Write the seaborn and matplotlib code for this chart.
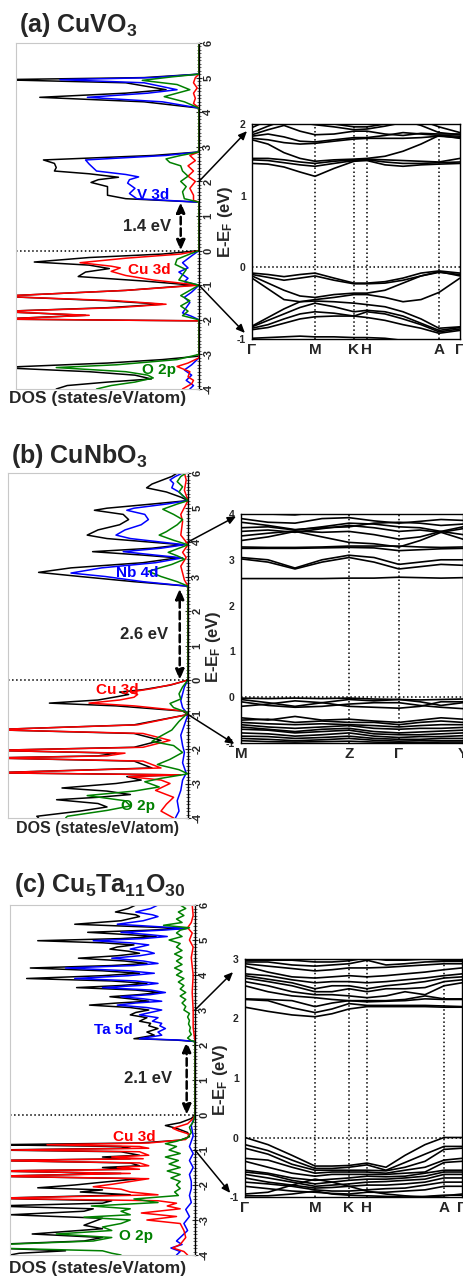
import matplotlib
matplotlib.use('Agg')
import pandas as pd
import matplotlib.pyplot as plt
import seaborn as sns
from matplotlib.patches import ConnectionPatch
from matplotlib.ticker import AutoMinorLocator

# ---------------- DOS data: (energy eV, DOS states/eV/atom) ----------------
a_total = [(6.0,0),(5.1,0),(5.0,3),(4.94,11),(4.85,4),(4.65,1.8),(4.55,4),(4.43,8.7),(4.3,3),(4.12,0),
           (2.85,0),(2.75,2.5),(2.62,8.5),(2.52,7.9),(2.4,7.8),(2.3,7.9),(2.22,6.0),(2.12,4.4),(2.05,5.5),(1.97,5.9),(1.85,5.0),(1.6,5.0),(1.5,4.0),(1.4,0),
           (0.0,0),(-0.1,2.0),(-0.2,6.0),(-0.33,9.0),(-0.42,6.0),(-0.52,4.9),(-0.62,6.2),(-0.75,6.6),(-0.88,3.0),(-1.0,0.3),
           (-1.15,4),(-1.32,11),(-1.45,5),(-1.55,2.0),(-1.65,5),(-1.76,11),(-1.87,6.2),(-1.98,11),(-2.03,0),
           (-3.05,0),(-3.15,2),(-3.25,5),(-3.38,11),(-3.5,6),(-3.6,3.5),(-3.71,2.6),(-3.8,5),(-3.9,7.2),(-4.0,7.8)]
a_metal = [(6.0,0),(5.1,0),(5.0,2.5),(4.94,7.6),(4.85,3),(4.65,1.2),(4.55,2.8),(4.43,6.1),(4.3,2),(4.12,0),
           (2.85,0),(2.75,1.8),(2.62,6.2),(2.5,6.0),(2.4,5.8),(2.3,5.6),(2.2,4.0),(2.13,3.3),(2.05,3.8),(1.95,3.9),(1.8,3.5),(1.65,3.8),(1.5,3.4),(1.4,0),
           (0.0,0),(-0.15,0.4),(-0.35,0.9),(-0.5,0.6),(-0.62,1.1),(-0.8,0.6),(-0.9,0.8),(-1.0,0),
           (-1.2,0.4),(-1.35,0.8),(-1.5,0.5),(-1.65,0.7),(-1.8,0.9),(-1.9,0.4),(-2.0,0),
           (-3.1,0),(-3.3,0.4),(-3.45,0.8),(-3.6,0.4),(-3.75,0.7),(-3.9,0.3),(-4.0,0.5)]
a_cu = [(6.0,0),(5.1,0),(5.0,0.2),(4.85,0.3),(4.7,0.1),(4.55,0.3),(4.4,0.2),(4.25,0.3),(4.12,0),
        (2.85,0),(2.75,0.5),(2.6,0.2),(2.45,0.6),(2.3,0.3),(2.15,0.6),(2.0,0.2),(1.8,0.5),(1.6,0.3),(1.45,0.3),(1.4,0),
        (0.0,0),(-0.1,1.0),(-0.22,4.0),(-0.35,6.5),(-0.45,4.8),(-0.5,4.3),(-0.6,4.8),(-0.72,4.0),(-0.85,2.5),(-1.0,0),
        (-1.15,4),(-1.32,11),(-1.45,4.5),(-1.55,1.8),(-1.65,4.5),(-1.76,11),(-1.87,6),(-1.98,11),(-2.03,0),
        (-3.1,0),(-3.25,0.6),(-3.35,1.2),(-3.5,0.5),(-3.65,0.6),(-3.75,0.3),(-3.85,0.4),(-4.0,0.9)]
a_o = [(6.0,0),(5.1,0),(5.02,1.5),(4.92,3.1),(4.8,1.2),(4.65,0.5),(4.55,1.2),(4.45,1.9),(4.3,0.8),(4.12,0),
       (2.85,0),(2.75,1.0),(2.65,1.8),(2.55,1.6),(2.45,1.0),(2.3,0.9),(2.15,0.6),(2.0,1.0),(1.85,0.7),(1.7,0.9),(1.5,0.8),(1.4,0),
       (0.0,0),(-0.1,0.5),(-0.25,1.2),(-0.4,1.3),(-0.55,0.7),(-0.7,0.9),(-0.85,1.1),(-1.0,0),
       (-1.15,0.5),(-1.3,1.0),(-1.45,0.5),(-1.6,1.0),(-1.75,0.6),(-1.88,0.9),(-2.0,0),
       (-3.0,0),(-3.15,1.2),(-3.3,4.5),(-3.38,7.8),(-3.5,4.0),(-3.6,2.8),(-3.68,2.5),(-3.8,3.5),(-3.9,4.8),(-4.0,5.6)]

b_total = [(6.0,0.6),(5.9,0.9),(5.8,1.4),(5.68,2.0),(5.57,2.3),(5.45,1.2),(5.3,0.4),(5.2,0),
           (5.1,2.0),(4.98,4.5),(4.92,5.2),(4.8,3.6),(4.65,3.3),(4.5,3.8),(4.35,5.0),(4.2,5.6),(4.1,4.5),(3.92,0.3),(3.82,2.0),(3.72,5.3),(3.62,2.5),(3.54,0.6),(3.4,2.5),(3.25,6.5),(3.12,8.3),(3.0,6.0),(2.85,3.0),(2.72,0),
           (0.0,0),(-0.15,1.0),(-0.28,2.5),(-0.35,3.8),(-0.42,3.3),(-0.48,3.9),(-0.58,5.0),(-0.67,7.7),(-0.75,4.0),(-0.9,0.3),(-1.0,0),
           (-1.3,3),(-1.44,11),(-1.55,3),(-1.75,1.5),(-1.95,3),(-2.04,11),(-2.12,4),(-2.2,5),(-2.26,11),(-2.35,3),(-2.55,2),(-2.69,11),(-2.75,0.5),
           (-2.8,3.4),(-2.9,2.6),(-3.0,4.0),(-3.13,7.0),(-3.22,4.5),(-3.32,3.2),(-3.4,5.0),(-3.47,7.3),(-3.58,5.0),(-3.68,4.5),(-3.8,6.0),(-3.95,8.4),(-4.0,8.3)]
b_metal = [(6.0,0.3),(5.9,0.7),(5.8,1.0),(5.7,0.8),(5.57,0.9),(5.45,0.5),(5.3,0.2),(5.2,0),
           (5.1,1.2),(4.98,3.0),(4.92,3.4),(4.8,2.4),(4.65,2.2),(4.5,2.6),(4.35,3.5),(4.2,4.0),(4.1,3.2),(3.92,0.2),(3.82,1.5),(3.72,3.6),(3.62,1.8),(3.54,0.3),(3.4,1.8),(3.25,4.8),(3.1,6.5),(3.0,4.6),(2.85,2.5),(2.72,0),
           (0.0,0),(-0.2,0.2),(-0.4,0.3),(-0.6,0.4),(-0.8,0.3),(-1.0,0),
           (-1.3,0.2),(-1.6,0.4),(-1.9,0.3),(-2.1,0.2),(-2.4,0.3),(-2.7,0.1),
           (-2.9,0.3),(-3.2,0.4),(-3.5,0.6),(-3.8,0.5),(-4.0,0.7)]
b_cu = [(6.0,0.2),(5.8,0.1),(5.5,0.2),(5.2,0),
        (5.0,0.2),(4.8,0.4),(4.6,0.3),(4.2,0.4),(4.0,0.1),(3.92,0),(3.7,0.3),(3.55,0.1),(3.3,0.4),(3.1,0.3),(2.9,0.2),(2.72,0),
        (0.0,0),(-0.12,0.8),(-0.25,2.0),(-0.35,3.2),(-0.42,2.8),(-0.5,3.0),(-0.58,3.8),(-0.67,5.5),(-0.75,3.0),(-0.9,0.2),(-1.0,0),
        (-1.3,2.8),(-1.44,11),(-1.55,2.5),(-1.75,1.0),(-1.95,2.5),(-2.04,11),(-2.12,3.5),(-2.2,4.5),(-2.26,11),(-2.35,2.5),(-2.55,1.5),(-2.69,11),(-2.75,0.4),
        (-2.8,3.3),(-2.9,1.5),(-3.0,1.0),(-3.2,1.8),(-3.4,0.8),(-3.6,1.2),(-3.8,1.5),(-4.0,0.8)]
b_o = [(6.0,0.1),(5.9,0.4),(5.75,0.6),(5.6,0.3),(5.45,0.5),(5.3,0.2),(5.2,0),
       (5.1,0.6),(4.95,1.4),(4.8,0.8),(4.65,0.3),(4.5,0.6),(4.3,1.2),(4.2,1.6),(4.05,0.8),(3.92,0),(3.8,0.6),(3.7,1.1),(3.6,0.6),(3.5,0.2),(3.35,0.9),(3.15,2.2),(3.0,1.5),(2.85,0.6),(2.72,0),
       (0.0,0),(-0.2,0.3),(-0.4,0.5),(-0.55,0.4),(-0.68,1.0),(-0.8,0.8),(-0.95,0),
       (-1.2,0.5),(-1.45,0.9),(-1.65,1.6),(-1.78,2.0),(-1.9,0.8),(-2.1,0.3),(-2.3,1.0),(-2.45,1.7),(-2.6,0.5),(-2.72,0),
       (-2.85,1.5),(-2.95,2.4),(-3.1,1.6),(-3.22,3.0),(-3.35,5.6),(-3.5,3.5),(-3.65,3.2),(-3.78,4.5),(-3.95,6.7),(-4.0,6.8)]

c_total = [(6.0,3.2),(5.9,3.6),(5.8,4.3),(5.72,3.2),(5.67,3.0),(5.55,4.0),(5.45,6.5),(5.38,3.0),(5.33,0.5),(5.28,2.5),(5.22,5.8),(5.15,3.5),(5.1,2.1),(5.04,4.0),(4.98,8.5),(4.92,5.0),(4.86,3.3),(4.8,4.2),(4.74,4.6),(4.68,3.6),(4.62,3.0),(4.55,4.2),(4.48,6.3),(4.4,3.8),(4.33,2.6),(4.27,4.5),(4.2,8.9),(4.12,5.0),(4.05,3.0),(3.98,5.0),(3.9,9.1),(3.83,4.5),(3.76,2.6),(3.7,4.0),(3.64,6.4),(3.57,3.2),(3.5,1.9),(3.44,3.0),(3.38,4.6),(3.32,3.5),(3.25,2.5),(3.2,4.2),(3.14,5.7),(3.07,3.5),(3.0,2.5),(2.93,3.2),(2.86,3.5),(2.78,2.6),(2.68,3.0),(2.62,2.4),(2.55,2.5),(2.47,2.0),(2.37,2.6),(2.28,2.2),(2.18,3.3),(2.14,1.0),(2.1,0),
           (0.0,0),(-0.1,0.2),(-0.22,0.8),(-0.3,1.6),(-0.38,1.0),(-0.5,0.4),(-0.62,0.3),(-0.72,0.8),
           (-0.8,3),(-0.85,11),(-0.9,4),(-0.95,3.5),(-1.0,11),(-1.05,4),(-1.15,3),(-1.2,5.0),(-1.25,3.5),(-1.3,11),(-1.37,3.5),(-1.45,3.0),(-1.5,5.0),(-1.55,3.5),(-1.6,11),(-1.67,4.0),(-1.75,11),(-1.82,3.0),(-1.92,5),(-2.0,6.5),(-2.08,8.5),(-2.14,5.0),(-2.2,6.2),(-2.28,3.5),(-2.38,11),(-2.45,4.5),(-2.52,5.0),(-2.6,11),(-2.68,5.5),(-2.75,6.0),(-2.85,10.0),(-2.95,5.0),(-3.05,5.5),(-3.15,6.0),(-3.25,5.0),(-3.4,8.8),(-3.5,5.0),(-3.6,6.0),(-3.7,11),(-3.8,11),(-3.88,7.0),(-3.95,9.5),(-4.0,10)]
c_metal = [(6.0,2.0),(5.9,2.4),(5.8,3.2),(5.72,2.3),(5.67,2.0),(5.55,2.8),(5.45,4.2),(5.38,2.0),(5.33,0.4),(5.28,1.8),(5.22,4.0),(5.15,2.4),(5.1,1.5),(5.04,2.8),(4.98,5.5),(4.92,3.5),(4.86,2.5),(4.8,3.0),(4.74,3.5),(4.68,2.6),(4.62,2.2),(4.55,3.0),(4.48,4.5),(4.4,2.8),(4.33,2.0),(4.27,3.3),(4.2,7.0),(4.12,3.6),(4.05,2.2),(3.98,3.6),(3.9,6.5),(3.83,3.2),(3.76,2.0),(3.7,3.0),(3.64,5.0),(3.57,2.4),(3.5,1.6),(3.44,2.4),(3.38,4.0),(3.32,2.8),(3.25,1.8),(3.2,3.2),(3.14,4.2),(3.07,2.6),(3.0,1.8),(2.93,2.4),(2.86,3.0),(2.78,2.0),(2.68,2.3),(2.62,1.8),(2.55,1.9),(2.47,1.6),(2.37,2.0),(2.28,1.8),(2.18,3.0),(2.14,0.8),(2.1,0),
           (0.0,0),(-0.3,0.2),(-0.6,0.1),(-0.9,0.3),(-1.1,0.1),(-1.3,0.3),(-1.5,0.1),(-1.7,0.3),(-1.9,0.2),(-2.1,0.2),(-2.3,0.3),(-2.5,0.2),(-2.7,0.5),(-2.9,0.3),(-3.1,0.6),(-3.3,0.4),(-3.5,0.8),(-3.6,1.0),(-3.7,0.7),(-3.8,1.3),(-3.9,0.8),(-4.0,1.0)]
c_cu = [(6.0,0.15),(5.7,0.1),(5.5,0.2),(5.35,0.4),(5.2,0.15),(5.0,0.3),(4.8,0.1),(4.5,0.2),(4.0,0.1),(3.5,0.15),(3.0,0.1),(2.5,0.1),(2.1,0),
        (0.0,0),(-0.1,0.1),(-0.25,0.4),(-0.38,1.2),(-0.45,0.9),(-0.55,0.3),(-0.7,0.5),
        (-0.8,2.5),(-0.85,8),(-0.9,3),(-0.95,2.5),(-1.0,10),(-1.05,3),(-1.15,2.5),(-1.2,4.5),(-1.25,2.8),(-1.3,11),(-1.37,3.0),(-1.45,2.5),(-1.5,4.2),(-1.55,3.0),(-1.6,11),(-1.67,3.5),(-1.75,11),(-1.82,2.5),(-1.9,3.5),(-1.98,4.5),(-2.05,5.5),(-2.12,4.0),(-2.2,3.5),(-2.28,2.0),(-2.38,11),(-2.45,2.0),(-2.52,1.0),(-2.6,1.5),(-2.68,0.8),(-2.8,2.9),(-2.9,1.0),(-3.0,2.6),(-3.1,0.8),(-3.3,0.6),(-3.5,0.5),(-3.7,0.8),(-3.8,1.2),(-3.9,0.6),(-4.0,0.4)]
c_o = [(6.0,0.8),(5.9,0.5),(5.8,0.9),(5.7,0.6),(5.6,1.0),(5.5,0.7),(5.42,1.7),(5.35,0.3),(5.28,0.8),(5.2,1.0),(5.1,0.7),(5.0,1.4),(4.9,0.8),(4.8,1.0),(4.7,0.7),(4.6,1.1),(4.5,0.7),(4.4,1.0),(4.3,0.7),(4.2,1.1),(4.1,0.7),(4.0,1.0),(3.9,0.6),(3.8,0.9),(3.7,0.6),(3.6,0.8),(3.5,0.5),(3.4,0.8),(3.3,0.5),(3.2,0.7),(3.1,0.5),(3.0,0.6),(2.9,0.3),(2.8,0.4),(2.7,0.3),(2.6,0.35),(2.5,0.25),(2.4,0.3),(2.3,0.2),(2.2,0.4),(2.12,0.2),(2.1,0),
       (0.0,0),(-0.2,0.1),(-0.35,0.3),(-0.5,0.2),(-0.65,0.4),
       (-0.75,1.0),(-0.82,1.6),(-0.9,1.0),(-1.0,1.4),(-1.1,0.8),(-1.2,1.6),(-1.3,0.9),(-1.4,1.4),(-1.5,0.8),(-1.6,1.5),(-1.7,0.8),(-1.8,1.3),(-1.9,0.8),(-2.0,1.0),(-2.1,0.8),(-2.2,1.1),(-2.3,0.9),(-2.4,3.3),(-2.5,2.0),(-2.6,5.6),(-2.68,3.5),(-2.75,4.0),(-2.85,3.5),(-2.92,6.0),(-3.0,3.5),(-3.1,4.0),(-3.2,5.0),(-3.3,4.5),(-3.4,7.5),(-3.5,4.5),(-3.6,5.5),(-3.7,10.5),(-3.8,11),(-3.88,5.0),(-3.95,4.5),(-4.0,4.0)]

# ---------------- band structure data ----------------
a_k = [0, 0.16, 0.32, 0.48, 0.63, 0.82, 1.02, 1.15, 1.33, 1.51, 1.69, 1.87, 2.08]
a_kticks = [0, 0.63, 1.02, 1.15, 1.87, 2.08]
a_klabels = ['Γ', 'M', 'K', 'H', 'A', 'Γ']
a_bands = [
    [1.45, 1.44, 1.40, 1.33, 1.27, 1.38, 1.48, 1.49, 1.43, 1.41, 1.43, 1.44, 1.45],
    [1.50, 1.49, 1.46, 1.43, 1.41, 1.45, 1.49, 1.50, 1.47, 1.45, 1.45, 1.46, 1.47],
    [1.52, 1.52, 1.50, 1.47, 1.45, 1.48, 1.50, 1.51, 1.50, 1.49, 1.48, 1.47, 1.52],
    [1.78, 1.72, 1.60, 1.52, 1.48, 1.50, 1.51, 1.52, 1.55, 1.62, 1.72, 1.84, 1.80],
    [1.80, 1.78, 1.74, 1.72, 1.73, 1.76, 1.79, 1.80, 1.80, 1.80, 1.81, 1.83, 1.81],
    [1.83, 1.86, 1.82, 1.76, 1.75, 1.78, 1.81, 1.81, 1.84, 1.88, 1.86, 1.84, 1.83],
    [1.85, 1.92, 1.98, 1.90, 1.85, 1.86, 1.90, 1.90, 1.86, 1.84, 1.87, 1.86, 1.86],
    [1.88, 1.97, 2.05, 2.02, 1.99, 1.96, 1.92, 1.93, 1.97, 2.02, 2.05, 1.96, 1.88],
    [1.95, 2.05, 2.10, 2.10, 2.05, 2.00, 1.96, 1.96, 2.00, 2.05, 1.98, 1.88, 1.85],
    [-0.08, -0.10, -0.13, -0.10, -0.08, -0.15, -0.22, -0.22, -0.20, -0.15, -0.08, -0.05, -0.08],
    [-0.10, -0.14, -0.18, -0.15, -0.12, -0.18, -0.23, -0.23, -0.22, -0.18, -0.12, -0.07, -0.10],
    [-0.12, -0.22, -0.32, -0.40, -0.42, -0.38, -0.36, -0.36, -0.32, -0.22, -0.12, -0.06, -0.12],
    [-0.15, -0.30, -0.45, -0.48, -0.45, -0.42, -0.38, -0.38, -0.42, -0.48, -0.45, -0.35, -0.15],
    [-0.82, -0.70, -0.58, -0.48, -0.47, -0.48, -0.50, -0.52, -0.55, -0.62, -0.72, -0.85, -0.83],
    [-0.83, -0.74, -0.65, -0.56, -0.50, -0.55, -0.62, -0.60, -0.62, -0.68, -0.78, -0.88, -0.84],
    [-0.85, -0.80, -0.72, -0.65, -0.62, -0.64, -0.68, -0.62, -0.65, -0.72, -0.80, -0.90, -0.86],
    [-0.87, -0.84, -0.78, -0.72, -0.69, -0.68, -0.68, -0.70, -0.74, -0.80, -0.85, -0.92, -0.88],
    [-0.99, -0.98, -0.97, -0.96, -0.97, -0.97, -0.98, -0.98, -0.99, -1.02, -1.05, -1.06, -1.05],
]

b_k = [0, 0.27, 0.54, 0.81, 1.08, 1.33, 1.58, 1.79, 2.0, 2.22]
b_kticks = [0, 1.08, 1.58, 2.22]
b_klabels = ['M', 'Z', 'Γ', 'Y']
b_bands = [
    [2.59, 2.59, 2.59, 2.59, 2.60, 2.60, 2.62, 2.61, 2.60, 2.61],
    [3.02, 2.95, 2.80, 2.95, 3.05, 2.95, 2.80, 2.85, 2.90, 2.88],
    [3.05, 3.00, 2.82, 3.00, 3.10, 3.05, 2.90, 2.95, 3.00, 3.00],
    [3.25, 3.25, 3.25, 3.26, 3.27, 3.26, 3.20, 3.22, 3.24, 3.25],
    [3.28, 3.27, 3.27, 3.28, 3.30, 3.30, 3.30, 3.28, 3.27, 3.28],
    [3.42, 3.50, 3.62, 3.50, 3.38, 3.35, 3.28, 3.42, 3.60, 3.45],
    [3.52, 3.58, 3.63, 3.60, 3.62, 3.55, 3.45, 3.50, 3.62, 3.55],
    [3.62, 3.65, 3.60, 3.68, 3.75, 3.70, 3.62, 3.65, 3.60, 3.68],
    [3.70, 3.72, 3.65, 3.72, 3.80, 3.78, 3.72, 3.70, 3.62, 3.72],
    [3.82, 3.75, 3.66, 3.70, 3.72, 3.80, 3.82, 3.80, 3.75, 3.78],
    [3.90, 3.82, 3.80, 3.90, 3.92, 3.85, 3.80, 3.84, 3.88, 3.86],
    [4.10, 4.00, 3.98, 4.05, 4.10, 4.10, 4.10, 4.10, 4.10, 4.10],
    [-0.02, -0.03, -0.02, -0.03, -0.02, -0.04, -0.05, -0.06, -0.05, -0.04],
    [-0.05, -0.12, -0.20, -0.12, -0.05, -0.08, -0.05, -0.10, -0.18, -0.12],
    [-0.10, -0.18, -0.22, -0.20, -0.15, -0.12, -0.12, -0.18, -0.22, -0.25],
    [-0.20, -0.15, -0.08, -0.12, -0.20, -0.22, -0.24, -0.20, -0.10, -0.10],
    [-0.45, -0.50, -0.42, -0.50, -0.48, -0.52, -0.55, -0.50, -0.45, -0.48],
    [-0.50, -0.48, -0.55, -0.52, -0.55, -0.55, -0.60, -0.55, -0.52, -0.55],
    [-0.55, -0.58, -0.60, -0.58, -0.60, -0.62, -0.65, -0.62, -0.60, -0.60],
    [-0.60, -0.65, -0.68, -0.65, -0.62, -0.68, -0.70, -0.68, -0.68, -0.66],
    [-0.65, -0.70, -0.75, -0.70, -0.68, -0.75, -0.78, -0.76, -0.74, -0.72],
    [-0.70, -0.72, -0.78, -0.75, -0.72, -0.80, -0.82, -0.82, -0.80, -0.78],
    [-0.78, -0.80, -0.85, -0.82, -0.78, -0.85, -0.88, -0.86, -0.86, -0.84],
    [-0.85, -0.86, -0.90, -0.88, -0.85, -0.90, -0.92, -0.92, -0.90, -0.90],
    [-0.90, -0.92, -0.95, -0.93, -0.90, -0.94, -0.96, -0.95, -0.95, -0.95],
    [-0.95, -0.97, -0.98, -0.97, -0.96, -0.98, -0.99, -0.99, -0.98, -0.98],
]

c_k = [0, 0.23, 0.47, 0.70, 0.87, 1.04, 1.22, 1.41, 1.60, 1.80, 1.99, 2.17]
c_kticks = [0, 0.70, 1.04, 1.22, 1.99, 2.17]
c_klabels = ['Γ', 'M', 'K', 'H', 'A', 'Γ']
c_bands = [
    [2.19, 2.12, 2.06, 2.03, 2.08, 2.16, 2.20, 2.20, 2.20, 2.20, 2.19, 2.19],
    [2.32, 2.30, 2.18, 2.10, 2.16, 2.25, 2.22, 2.22, 2.22, 2.22, 2.21, 2.20],
    [2.33, 2.32, 2.30, 2.20, 2.26, 2.30, 2.28, 2.29, 2.30, 2.33, 2.32, 2.32],
    [2.55, 2.45, 2.38, 2.35, 2.32, 2.30, 2.30, 2.30, 2.32, 2.38, 2.33, 2.33],
    [2.62, 2.55, 2.45, 2.40, 2.40, 2.38, 2.35, 2.38, 2.45, 2.40, 2.55, 2.60],
    [2.68, 2.62, 2.55, 2.45, 2.45, 2.50, 2.45, 2.50, 2.50, 2.52, 2.62, 2.65],
    [2.72, 2.66, 2.60, 2.50, 2.55, 2.55, 2.50, 2.55, 2.58, 2.62, 2.68, 2.70],
    [2.75, 2.72, 2.65, 2.60, 2.62, 2.62, 2.60, 2.62, 2.65, 2.68, 2.72, 2.75],
    [2.88, 2.78, 2.70, 2.68, 2.70, 2.72, 2.70, 2.72, 2.75, 2.78, 2.82, 2.85],
    [2.92, 2.88, 2.84, 2.80, 2.82, 2.85, 2.85, 2.86, 2.88, 2.90, 2.92, 2.92],
    [2.95, 2.95, 2.90, 2.88, 2.90, 2.92, 2.98, 2.90, 2.92, 2.95, 2.96, 2.96],
    [2.98, 2.98, 2.98, 2.95, 2.95, 2.97, 3.02, 2.98, 2.98, 3.00, 2.98, 2.98],
    [0.00, -0.12, -0.30, -0.48, -0.48, -0.47, -0.43, -0.50, -0.30, -0.12, 0.00, 0.00],
    [-0.12, -0.22, -0.38, -0.52, -0.52, -0.50, -0.46, -0.55, -0.42, -0.28, -0.15, -0.15],
    [-0.18, -0.28, -0.45, -0.55, -0.55, -0.55, -0.55, -0.56, -0.50, -0.40, -0.20, -0.18],
    [-0.35, -0.38, -0.50, -0.60, -0.58, -0.58, -0.58, -0.60, -0.55, -0.50, -0.38, -0.35],
    [-0.40, -0.50, -0.60, -0.65, -0.62, -0.62, -0.62, -0.62, -0.60, -0.58, -0.42, -0.40],
    [-0.55, -0.60, -0.68, -0.72, -0.70, -0.68, -0.65, -0.66, -0.65, -0.60, -0.55, -0.55],
    [-0.58, -0.62, -0.72, -0.78, -0.75, -0.72, -0.70, -0.70, -0.68, -0.65, -0.58, -0.58],
    [-0.62, -0.68, -0.75, -0.82, -0.80, -0.78, -0.75, -0.74, -0.72, -0.70, -0.62, -0.62],
    [-0.68, -0.75, -0.80, -0.85, -0.84, -0.82, -0.80, -0.80, -0.78, -0.75, -0.68, -0.68],
    [-0.75, -0.78, -0.82, -0.88, -0.90, -0.90, -0.88, -0.86, -0.85, -0.80, -0.75, -0.75],
    [-0.82, -0.86, -0.90, -0.92, -0.94, -0.95, -0.92, -0.92, -0.90, -0.88, -0.82, -0.82],
    [-0.95, -0.92, -0.80, -0.70, -0.75, -0.82, -0.90, -0.95, -0.98, -1.00, -0.98, -0.95],
    [-0.98, -0.98, -0.95, -0.90, -0.95, -0.97, -0.98, -0.99, -1.00, -0.99, -0.97, -0.97],
]

titles = [r'(a) CuVO$_\mathbf{3}$', r'(b) CuNbO$_\mathbf{3}$', r'(c) Cu$_\mathbf{5}$Ta$_\mathbf{11}$O$_\mathbf{30}$']
metal_names = ['V 3d', 'Nb 4d', 'Ta 5d']
gaps = [1.4, 2.65, 2.1]
gap_texts = ['1.4 eV', '2.6 eV', '2.1 eV']
band_ylims = [(-1, 2), (-1, 4), (-1, 3)]
arrow_from = [(2, -1), (4, -1), (3, -1)]

# ---------------- style ----------------
sns.set_style('white')
plt.rcParams['font.family'] = ['Liberation Sans', 'DejaVu Sans']
plt.rcParams['font.weight'] = 'bold'
plt.rcParams['mathtext.fontset'] = 'custom'
plt.rcParams['mathtext.bf'] = 'Liberation Sans:bold'
plt.rcParams['mathtext.rm'] = 'Liberation Sans:bold'
plt.rcParams['mathtext.default'] = 'bf'
plt.rcParams['axes.unicode_minus'] = False

W, H = 464, 1277
fig = plt.figure(figsize=(W / 100, H / 100), dpi=100)


def box(l, t, r, b):
    return [l / W, 1 - b / H, (r - l) / W, (b - t) / H]


# pixel layout of each panel
dos_boxes = [(16, 43, 199, 389), (8, 473, 188, 818), (10, 905, 195, 1255)]
band_boxes = [(252, 124, 460, 339), (241, 514, 463, 743), (245, 959, 462, 1197)]
title_xy = [(19, 25), (11, 456), (14, 885)]
xlabel_y = [399, 828, 1268]
xlabel_size = [12.5, 11.5, 12.5]
elabel_xy = [(226, 222), (214, 647), (221, 1080)]
gap_x = [1.0, 0.46, 0.45]
gap_txt_x = [1.5, 1.1, 1.25]
lab_pos = [[(2.5, 1.62), (2.7, -0.55), (2.2, -3.45)],
           [(2.8, 3.1), (3.9, -0.3), (2.8, -3.65)],
           [(4.4, 2.42), (3.3, -0.62), (3.2, -3.45)]]
tip_up = [(-0.024, 0.967), (-0.022, 0.99), (-0.055, 0.945)]
tip_dn = [(-0.034, 0.028), (-0.03, -0.004), (-0.068, 0.017)]

dos_sets = [(a_total, a_metal, a_cu, a_o), (b_total, b_metal, b_cu, b_o), (c_total, c_metal, c_cu, c_o)]
band_sets = [(a_k, a_bands, a_kticks, a_klabels), (b_k, b_bands, b_kticks, b_klabels),
             (c_k, c_bands, c_kticks, c_klabels)]
colors = ['black', '#0000ff', '#ff0000', '#008000']
lab_colors = ['#0000ff', '#ff0000', '#008000']

for i in range(3):
    # --- DOS panel ---
    ax = fig.add_axes(box(*dos_boxes[i]))
    for pts, col in zip(dos_sets[i], colors):
        e, d = zip(*pts)
        sns.lineplot(x=list(d), y=list(e), sort=False, estimator=None, color=col, lw=1.1, ax=ax)
    ax.set_xlim(10, 0)
    ax.set_ylim(-4, 6)
    ax.set_xticks([])
    ax.set_yticks(range(-4, 7))
    ax.yaxis.tick_right()
    ax.yaxis.set_minor_locator(AutoMinorLocator(10))
    ax.tick_params(axis='y', which='major', direction='inout', length=4, width=0.8,
                   labelsize=8, labelrotation=90, pad=1)
    ax.tick_params(axis='y', which='minor', direction='inout', length=2.2, width=0.5)
    for lab in ax.get_yticklabels():
        lab.set_fontweight('bold')
        lab.set_va('center')
    for s in ['left', 'top', 'bottom']:
        ax.spines[s].set_color('#c8c8c8')
        ax.spines[s].set_linewidth(0.8)
    ax.spines['right'].set_color('black')
    ax.spines['right'].set_linewidth(1.0)
    ax.set_xlabel('')
    ax.set_ylabel('')
    ax.axhline(0, ls=':', color='black', lw=1.1)
    ax.annotate('', xy=(gap_x[i], gaps[i]), xytext=(gap_x[i], 0),
                arrowprops=dict(arrowstyle='<|-|>,head_length=0.6,head_width=0.25',
                                ls=(0, (3, 1.6)), lw=1.8, color='black', shrinkA=0, shrinkB=0))
    ax.text(gap_txt_x[i], gaps[i] / 2, gap_texts[i], ha='right', va='center',
            fontsize=12, fontweight='bold')
    for (lx, ly), name, col in zip(lab_pos[i], [metal_names[i], 'Cu 3d', 'O 2p'], lab_colors):
        ax.text(lx, ly, name, color=col, ha='center', va='center', fontsize=11, fontweight='bold')

    fig.text(title_xy[i][0] / W, 1 - title_xy[i][1] / H, titles[i], ha='left', va='center',
             fontsize=18, fontweight='bold')
    fig.text(98 / W, 1 - xlabel_y[i] / H, 'DOS (states/eV/atom)', ha='center', va='center',
             fontsize=xlabel_size[i], fontweight='bold')
    fig.text(elabel_xy[i][0] / W, 1 - elabel_xy[i][1] / H, r'E-E$_\mathbf{F}$ (eV)', rotation=90,
             ha='center', va='center', fontsize=12, fontweight='bold')

    # --- band panel ---
    bx = fig.add_axes(box(*band_boxes[i]))
    kg, bands, kt, kl = band_sets[i]
    rows = [(k, en, j) for j, bnd in enumerate(bands) for k, en in zip(kg, bnd)]
    df = pd.DataFrame(rows, columns=['k', 'E', 'band'])
    sns.lineplot(data=df, x='k', y='E', units='band', estimator=None, color='black', lw=1.2,
                 ax=bx, legend=False)
    bx.set_xlim(kt[0], kt[-1])
    bx.set_ylim(*band_ylims[i])
    bx.set_xticks(kt)
    bx.set_xticklabels(kl, fontsize=11, fontweight='bold')
    bx.tick_params(axis='x', length=0, pad=3)
    bx.set_yticks(range(band_ylims[i][0], band_ylims[i][1] + 1))
    bx.yaxis.set_minor_locator(AutoMinorLocator(10))
    bx.tick_params(axis='y', which='major', direction='out', length=3, width=0.8, labelsize=7.5, pad=1.5)
    bx.tick_params(axis='y', which='minor', direction='out', length=1.8, width=0.5)
    for lab in bx.get_yticklabels():
        lab.set_fontweight('bold')
    for kk in kt[1:-1]:
        bx.axvline(kk, ls=':', color='black', lw=1.1)
    bx.axhline(0, ls=':', color='black', lw=1.1)
    for s in bx.spines.values():
        s.set_color('black')
        s.set_linewidth(1.0)
    bx.set_xlabel('')
    bx.set_ylabel('')

    # connecting arrows from DOS to band panel
    for e0, tip in zip(arrow_from[i], [tip_up[i], tip_dn[i]]):
        con = ConnectionPatch(xyA=(0, e0), coordsA=ax.transData, xyB=tip, coordsB=bx.transAxes,
                              arrowstyle='-|>,head_length=0.5,head_width=0.22', color='black', lw=1.1)
        fig.add_artist(con)

fig.savefig('out.png', dpi=100)
